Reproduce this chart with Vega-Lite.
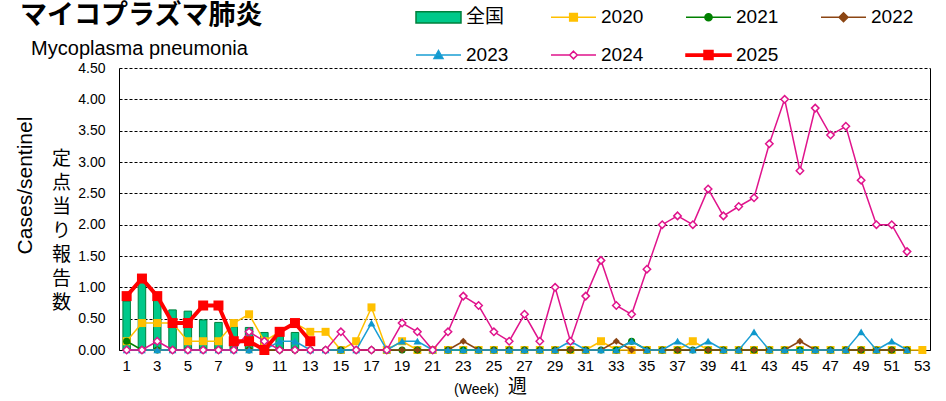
{
"$schema":"https://vega.github.io/schema/vega-lite/v6.json",
"autosize":{"type":"none"},
"width":811,"height":282,
"padding":{"left":119,"top":68,"right":16,"bottom":51},
"config":{"view":{"stroke":null},"font":"Liberation Sans"},
"title":{"text":"マイコプラズマ肺炎","subtitle":"\u200b\u00a0\u00a0Mycoplasma pneumonia","anchor":"start","frame":"group","fontSize":27,"fontWeight":"bold","font":"Noto Sans CJK JP","color":"black","subtitleFont":"Liberation Sans","subtitleFontSize":20,"subtitleColor":"black","subtitlePadding":9,"dx":-99,"dy":70,"offset":4},
"data":{"values":[
{"s":"全国","w":1,"v":0.78},{"s":"全国","w":2,"v":1.09},{"s":"全国","w":3,"v":0.82},{"s":"全国","w":4,"v":0.64},{"s":"全国","w":5,"v":0.62},{"s":"全国","w":6,"v":0.48},{"s":"全国","w":7,"v":0.44},{"s":"全国","w":8,"v":0.37},{"s":"全国","w":9,"v":0.36},{"s":"全国","w":10,"v":0.28},{"s":"全国","w":11,"v":0.22},{"s":"全国","w":12,"v":0.28},
{"s":"2020","w":1,"v":0.14},{"s":"2020","w":2,"v":0.43},{"s":"2020","w":3,"v":0.43},{"s":"2020","w":4,"v":0.43},{"s":"2020","w":5,"v":0.14},{"s":"2020","w":6,"v":0.14},{"s":"2020","w":7,"v":0.14},{"s":"2020","w":8,"v":0.43},{"s":"2020","w":9,"v":0.57},{"s":"2020","w":10,"v":0.14},{"s":"2020","w":11,"v":0.29},{"s":"2020","w":12,"v":0.43},{"s":"2020","w":13,"v":0.29},{"s":"2020","w":14,"v":0.29},{"s":"2020","w":15,"v":0},{"s":"2020","w":16,"v":0.14},{"s":"2020","w":17,"v":0.68},{"s":"2020","w":18,"v":0},{"s":"2020","w":19,"v":0.14},{"s":"2020","w":20,"v":0},{"s":"2020","w":21,"v":0},{"s":"2020","w":22,"v":0},{"s":"2020","w":23,"v":0},{"s":"2020","w":24,"v":0},{"s":"2020","w":25,"v":0},{"s":"2020","w":26,"v":0},{"s":"2020","w":27,"v":0},{"s":"2020","w":28,"v":0},{"s":"2020","w":29,"v":0},{"s":"2020","w":30,"v":0},{"s":"2020","w":31,"v":0},{"s":"2020","w":32,"v":0.14},{"s":"2020","w":33,"v":0},{"s":"2020","w":34,"v":0},{"s":"2020","w":35,"v":0},{"s":"2020","w":36,"v":0},{"s":"2020","w":37,"v":0},{"s":"2020","w":38,"v":0.14},{"s":"2020","w":39,"v":0},{"s":"2020","w":40,"v":0},{"s":"2020","w":41,"v":0},{"s":"2020","w":42,"v":0},{"s":"2020","w":43,"v":0},{"s":"2020","w":44,"v":0},{"s":"2020","w":45,"v":0},{"s":"2020","w":46,"v":0},{"s":"2020","w":47,"v":0},{"s":"2020","w":48,"v":0},{"s":"2020","w":49,"v":0},{"s":"2020","w":50,"v":0},{"s":"2020","w":51,"v":0},{"s":"2020","w":52,"v":0},{"s":"2020","w":53,"v":0},
{"s":"2021","w":1,"v":0.14},{"s":"2021","w":2,"v":0},{"s":"2021","w":3,"v":0},{"s":"2021","w":4,"v":0},{"s":"2021","w":5,"v":0},{"s":"2021","w":6,"v":0},{"s":"2021","w":7,"v":0},{"s":"2021","w":8,"v":0},{"s":"2021","w":9,"v":0},{"s":"2021","w":10,"v":0},{"s":"2021","w":11,"v":0},{"s":"2021","w":12,"v":0},{"s":"2021","w":13,"v":0},{"s":"2021","w":14,"v":0},{"s":"2021","w":15,"v":0},{"s":"2021","w":16,"v":0},{"s":"2021","w":17,"v":0},{"s":"2021","w":18,"v":0},{"s":"2021","w":19,"v":0},{"s":"2021","w":20,"v":0},{"s":"2021","w":21,"v":0},{"s":"2021","w":22,"v":0},{"s":"2021","w":23,"v":0},{"s":"2021","w":24,"v":0},{"s":"2021","w":25,"v":0},{"s":"2021","w":26,"v":0},{"s":"2021","w":27,"v":0},{"s":"2021","w":28,"v":0},{"s":"2021","w":29,"v":0},{"s":"2021","w":30,"v":0},{"s":"2021","w":31,"v":0},{"s":"2021","w":32,"v":0},{"s":"2021","w":33,"v":0},{"s":"2021","w":34,"v":0.14},{"s":"2021","w":35,"v":0},{"s":"2021","w":36,"v":0},{"s":"2021","w":37,"v":0},{"s":"2021","w":38,"v":0},{"s":"2021","w":39,"v":0},{"s":"2021","w":40,"v":0},{"s":"2021","w":41,"v":0},{"s":"2021","w":42,"v":0},{"s":"2021","w":43,"v":0},{"s":"2021","w":44,"v":0},{"s":"2021","w":45,"v":0},{"s":"2021","w":46,"v":0},{"s":"2021","w":47,"v":0},{"s":"2021","w":48,"v":0},{"s":"2021","w":49,"v":0},{"s":"2021","w":50,"v":0},{"s":"2021","w":51,"v":0},{"s":"2021","w":52,"v":0},
{"s":"2022","w":1,"v":0},{"s":"2022","w":2,"v":0},{"s":"2022","w":3,"v":0},{"s":"2022","w":4,"v":0},{"s":"2022","w":5,"v":0},{"s":"2022","w":6,"v":0},{"s":"2022","w":7,"v":0},{"s":"2022","w":8,"v":0},{"s":"2022","w":9,"v":0},{"s":"2022","w":10,"v":0},{"s":"2022","w":11,"v":0},{"s":"2022","w":12,"v":0},{"s":"2022","w":13,"v":0},{"s":"2022","w":14,"v":0},{"s":"2022","w":15,"v":0},{"s":"2022","w":16,"v":0},{"s":"2022","w":17,"v":0},{"s":"2022","w":18,"v":0},{"s":"2022","w":19,"v":0},{"s":"2022","w":20,"v":0},{"s":"2022","w":21,"v":0},{"s":"2022","w":22,"v":0},{"s":"2022","w":23,"v":0.14},{"s":"2022","w":24,"v":0},{"s":"2022","w":25,"v":0},{"s":"2022","w":26,"v":0},{"s":"2022","w":27,"v":0},{"s":"2022","w":28,"v":0},{"s":"2022","w":29,"v":0},{"s":"2022","w":30,"v":0},{"s":"2022","w":31,"v":0},{"s":"2022","w":32,"v":0},{"s":"2022","w":33,"v":0.14},{"s":"2022","w":34,"v":0},{"s":"2022","w":35,"v":0},{"s":"2022","w":36,"v":0},{"s":"2022","w":37,"v":0},{"s":"2022","w":38,"v":0},{"s":"2022","w":39,"v":0},{"s":"2022","w":40,"v":0},{"s":"2022","w":41,"v":0},{"s":"2022","w":42,"v":0},{"s":"2022","w":43,"v":0},{"s":"2022","w":44,"v":0},{"s":"2022","w":45,"v":0.14},{"s":"2022","w":46,"v":0},{"s":"2022","w":47,"v":0},{"s":"2022","w":48,"v":0},{"s":"2022","w":49,"v":0},{"s":"2022","w":50,"v":0},{"s":"2022","w":51,"v":0},{"s":"2022","w":52,"v":0},
{"s":"2023","w":1,"v":0},{"s":"2023","w":2,"v":0},{"s":"2023","w":3,"v":0},{"s":"2023","w":4,"v":0},{"s":"2023","w":5,"v":0},{"s":"2023","w":6,"v":0},{"s":"2023","w":7,"v":0},{"s":"2023","w":8,"v":0},{"s":"2023","w":9,"v":0},{"s":"2023","w":10,"v":0},{"s":"2023","w":11,"v":0.14},{"s":"2023","w":12,"v":0.14},{"s":"2023","w":13,"v":0},{"s":"2023","w":14,"v":0},{"s":"2023","w":15,"v":0},{"s":"2023","w":16,"v":0},{"s":"2023","w":17,"v":0.43},{"s":"2023","w":18,"v":0},{"s":"2023","w":19,"v":0.14},{"s":"2023","w":20,"v":0.14},{"s":"2023","w":21,"v":0},{"s":"2023","w":22,"v":0},{"s":"2023","w":23,"v":0},{"s":"2023","w":24,"v":0},{"s":"2023","w":25,"v":0},{"s":"2023","w":26,"v":0},{"s":"2023","w":27,"v":0},{"s":"2023","w":28,"v":0},{"s":"2023","w":29,"v":0},{"s":"2023","w":30,"v":0.14},{"s":"2023","w":31,"v":0},{"s":"2023","w":32,"v":0},{"s":"2023","w":33,"v":0},{"s":"2023","w":34,"v":0.14},{"s":"2023","w":35,"v":0},{"s":"2023","w":36,"v":0},{"s":"2023","w":37,"v":0.14},{"s":"2023","w":38,"v":0},{"s":"2023","w":39,"v":0.14},{"s":"2023","w":40,"v":0},{"s":"2023","w":41,"v":0},{"s":"2023","w":42,"v":0.29},{"s":"2023","w":43,"v":0},{"s":"2023","w":44,"v":0},{"s":"2023","w":45,"v":0},{"s":"2023","w":46,"v":0},{"s":"2023","w":47,"v":0},{"s":"2023","w":48,"v":0},{"s":"2023","w":49,"v":0.29},{"s":"2023","w":50,"v":0},{"s":"2023","w":51,"v":0.14},{"s":"2023","w":52,"v":0},
{"s":"2024","w":1,"v":0},{"s":"2024","w":2,"v":0},{"s":"2024","w":3,"v":0.14},{"s":"2024","w":4,"v":0},{"s":"2024","w":5,"v":0},{"s":"2024","w":6,"v":0},{"s":"2024","w":7,"v":0},{"s":"2024","w":8,"v":0},{"s":"2024","w":9,"v":0.29},{"s":"2024","w":10,"v":0.14},{"s":"2024","w":11,"v":0},{"s":"2024","w":12,"v":0},{"s":"2024","w":13,"v":0},{"s":"2024","w":14,"v":0},{"s":"2024","w":15,"v":0.29},{"s":"2024","w":16,"v":0},{"s":"2024","w":17,"v":0},{"s":"2024","w":18,"v":0},{"s":"2024","w":19,"v":0.43},{"s":"2024","w":20,"v":0.29},{"s":"2024","w":21,"v":0},{"s":"2024","w":22,"v":0.29},{"s":"2024","w":23,"v":0.86},{"s":"2024","w":24,"v":0.71},{"s":"2024","w":25,"v":0.29},{"s":"2024","w":26,"v":0.14},{"s":"2024","w":27,"v":0.57},{"s":"2024","w":28,"v":0.14},{"s":"2024","w":29,"v":1.0},{"s":"2024","w":30,"v":0.14},{"s":"2024","w":31,"v":0.86},{"s":"2024","w":32,"v":1.43},{"s":"2024","w":33,"v":0.71},{"s":"2024","w":34,"v":0.57},{"s":"2024","w":35,"v":1.29},{"s":"2024","w":36,"v":2.0},{"s":"2024","w":37,"v":2.14},{"s":"2024","w":38,"v":2.0},{"s":"2024","w":39,"v":2.57},{"s":"2024","w":40,"v":2.14},{"s":"2024","w":41,"v":2.29},{"s":"2024","w":42,"v":2.43},{"s":"2024","w":43,"v":3.29},{"s":"2024","w":44,"v":4.0},{"s":"2024","w":45,"v":2.86},{"s":"2024","w":46,"v":3.86},{"s":"2024","w":47,"v":3.43},{"s":"2024","w":48,"v":3.57},{"s":"2024","w":49,"v":2.71},{"s":"2024","w":50,"v":2.0},{"s":"2024","w":51,"v":2.0},{"s":"2024","w":52,"v":1.57},
{"s":"2025","w":1,"v":0.86},{"s":"2025","w":2,"v":1.14},{"s":"2025","w":3,"v":0.86},{"s":"2025","w":4,"v":0.43},{"s":"2025","w":5,"v":0.43},{"s":"2025","w":6,"v":0.71},{"s":"2025","w":7,"v":0.71},{"s":"2025","w":8,"v":0.14},{"s":"2025","w":9,"v":0.14},{"s":"2025","w":10,"v":0},{"s":"2025","w":11,"v":0.29},{"s":"2025","w":12,"v":0.43},{"s":"2025","w":13,"v":0.14}
]},
"encoding":{
"x":{"field":"w","type":"ordinal","scale":{"domain":[1,2,3,4,5,6,7,8,9,10,11,12,13,14,15,16,17,18,19,20,21,22,23,24,25,26,27,28,29,30,31,32,33,34,35,36,37,38,39,40,41,42,43,44,45,46,47,48,49,50,51,52,53],"paddingInner":0,"paddingOuter":0},"axis":null},
"y":{"field":"v","type":"quantitative","scale":{"domain":[0,4.5]},"axis":null}
},
"resolve":{"axis":{"x":"independent","y":"independent"}},
"layer":[
{"transform":[{"filter":"datum.s==='全国'"}],
 "mark":{"type":"bar","width":7.5,"fill":"#00C98A","stroke":"#00803C","strokeWidth":1},
 "encoding":{
  "x":{"field":"w","type":"ordinal","axis":{"values":[1,3,5,7,9,11,13,15,17,19,21,23,25,27,29,31,33,35,37,39,41,43,45,47,49,51,53],"labelAngle":0,"labelFontSize":15,"labelColor":"black","labelPadding":8,"ticks":false,"domain":true,"domainColor":"black","domainWidth":1,"grid":false,"title":"週","titleFont":"Noto Sans CJK JP","titleFontSize":19,"titleFontWeight":"normal","titleColor":"black","titleX":398,"titleY":36,"titleAlign":"center","titleBaseline":"middle"}},
  "y":{"field":"v","type":"quantitative","axis":{"values":[0,0.5,1,1.5,2,2.5,3,3.5,4,4.5],"format":".2f","labelFontSize":14,"labelColor":"black","labelPadding":14,"ticks":false,"domain":true,"domainColor":"black","grid":true,"gridColor":"black","gridDash":[3,2],"gridOpacity":1,"gridWidth":1,"title":["定","点","当","り","報","告","数"],"titleAngle":0,"titleFont":"Noto Sans CJK JP","titleFontSize":19,"titleFontWeight":"normal","titleColor":"black","titleLineHeight":24,"titleX":-58,"titleY":90,"titleAlign":"center","titleBaseline":"middle"}}
 }},
{"transform":[{"filter":"datum.s==='2020'"}],
 "mark":{"type":"line","color":"#FFC000","strokeWidth":1.5,"point":{"shape":"square","filled":true,"color":"#FFC000","size":64}},
 "encoding":{
  "x":{"field":"w","type":"ordinal","axis":{"orient":"bottom","labels":false,"ticks":false,"domain":false,"grid":false,"title":"(Week)","titleFont":"Liberation Sans","titleFontSize":14,"titleFontWeight":"normal","titleColor":"black","titleX":357,"titleY":39,"titleAlign":"center","titleBaseline":"middle"}},
  "y":{"field":"v","type":"quantitative","axis":{"orient":"right","labels":false,"ticks":false,"grid":false,"domain":true,"domainColor":"black","title":null}}
 }},
{"transform":[{"filter":"datum.s==='2021'"}],
 "mark":{"type":"line","color":"#008000","strokeWidth":1.5,"point":{"shape":"circle","filled":true,"color":"#008000","size":50}},
 "encoding":{
  "y":{"field":"v","type":"quantitative","axis":{"orient":"left","labels":false,"ticks":false,"grid":false,"domain":false,"title":"Cases/sentinel","titleAngle":-90,"titleFont":"Liberation Sans","titleFontSize":21,"titleFontWeight":"normal","titleColor":"black","titleX":-94,"titleY":117,"titleAlign":"center","titleBaseline":"middle"}}
 }},
{"transform":[{"filter":"datum.s==='2022'"}],
 "mark":{"type":"line","color":"#8B4513","strokeWidth":1.5,"point":{"shape":"diamond","filled":true,"color":"#8B4513","size":50}}},
{"transform":[{"filter":"datum.s==='2023'"}],
 "mark":{"type":"line","color":"#1A9ED4","strokeWidth":1.5,"point":{"shape":"triangle-up","filled":true,"color":"#0E98CC","size":60}}},
{"transform":[{"filter":"datum.s==='2024'"}],
 "mark":{"type":"line","color":"#E0148C","strokeWidth":1.5,"point":{"shape":"diamond","filled":true,"fill":"white","stroke":"#E0148C","strokeWidth":1.5,"size":55}}},
{"transform":[{"filter":"datum.s==='2025'"}],
 "mark":{"type":"line","color":"#FF0000","strokeWidth":4,"point":{"shape":"square","filled":true,"color":"#FF0000","size":100}}},
{"transform":[{"filter":"false"}],
 "mark":{"type":"point","filled":true,"opacity":1},
 "encoding":{
  "shape":{"field":"s","type":"nominal","scale":{"domain":["全国","2020","2021","2022","2023","2024","2025"],"range":["M-1,-0.25H1V0.25H-1Z","M-1,0H1M-0.17,-0.17H0.17V0.17H-0.17Z","M-1,0H1M-0.16,0A0.16,0.16 0 1,0 0.16,0A0.16,0.16 0 1,0 -0.16,0Z","M-1,0H1M0,-0.2L0.2,0L0,0.2L-0.2,0Z","M-1,0H1M0,-0.2L0.2,0.16L-0.2,0.16Z","M-1,0H-0.17M0.17,0H1M0,-0.17L0.17,0L0,0.17L-0.17,0Z","M-1,-0.05H1V0.05H-1ZM-0.2,-0.2H0.2V0.2H-0.2Z"]},
   "legend":{"orient":"none","legendX":296,"legendY":-74.5,"columns":4,"direction":"horizontal","title":null,"symbolSize":2025,"symbolStrokeWidth":1.5,"symbolOpacity":1,"labelFontSize":19,"labelFont":"Liberation Sans, Noto Sans CJK JP","labelColor":"black","labelOffset":4,"columnPadding":39,"rowPadding":4,"padding":0}},
  "fill":{"field":"s","type":"nominal","scale":{"domain":["全国","2020","2021","2022","2023","2024","2025"],"range":["#00C98A","#FFC000","#008000","#8B4513","#0E98CC","white","#FF0000"]},
   "legend":{"orient":"none","legendX":296,"legendY":-74.5,"columns":4,"direction":"horizontal","title":null,"symbolSize":2025,"symbolStrokeWidth":1.5,"symbolOpacity":1,"labelFontSize":19,"labelFont":"Liberation Sans, Noto Sans CJK JP","labelColor":"black","labelOffset":4,"columnPadding":39,"rowPadding":4,"padding":0}},
  "stroke":{"field":"s","type":"nominal","scale":{"domain":["全国","2020","2021","2022","2023","2024","2025"],"range":["#00803C","#FFC000","#008000","#8B4513","#1A9ED4","#E0148C","#FF0000"]},
   "legend":{"orient":"none","legendX":296,"legendY":-74.5,"columns":4,"direction":"horizontal","title":null,"symbolSize":2025,"symbolStrokeWidth":1.5,"symbolOpacity":1,"labelFontSize":19,"labelFont":"Liberation Sans, Noto Sans CJK JP","labelColor":"black","labelOffset":4,"columnPadding":39,"rowPadding":4,"padding":0}}
 }}
]
}
